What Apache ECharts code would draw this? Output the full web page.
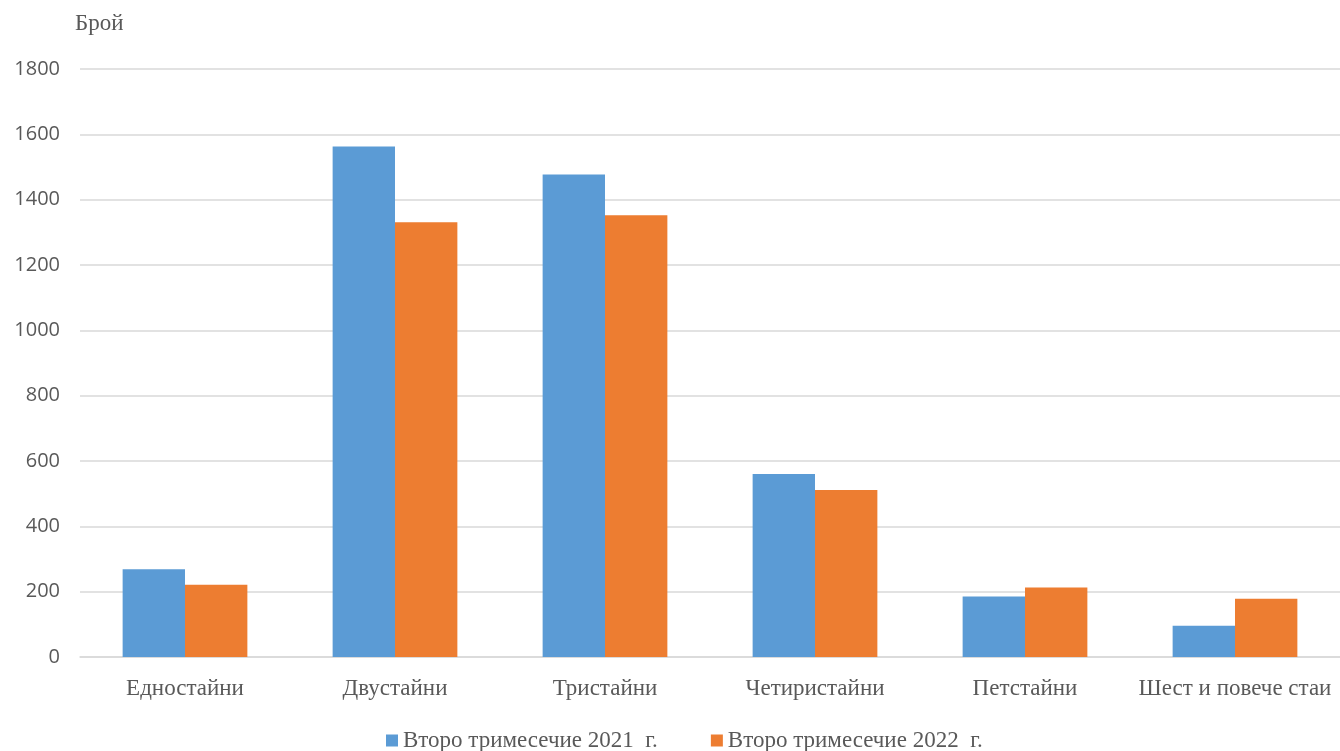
<!DOCTYPE html>
<html>
<head>
<meta charset="utf-8">
<script src="https://cdn.jsdelivr.net/npm/echarts@6/dist/echarts.min.js"></script>
<style>html,body{margin:0;padding:0;background:#fff}#c{width:1340px;height:751px}</style>
</head>
<body>
<div id="c"></div>
<script>
const categories = ['Едностайни', 'Двустайни', 'Тристайни', 'Четиристайни', 'Петстайни', 'Шест и повече стаи'];
const series2021 = [269, 1563, 1477, 560, 185, 96];
const series2022 = [221, 1331, 1352, 511, 213, 178];
const seriesNames = ['Второ тримесечие 2021  г.', 'Второ тримесечие 2022  г.'];
const yTicks = [0, 200, 400, 600, 800, 1000, 1200, 1400, 1600, 1800];
const yName = 'Брой';

const serif = '"Liberation Serif", "DejaVu Serif", serif';
const chart = echarts.init(document.getElementById('c'));
chart.setOption({
  animation: false,
  backgroundColor: '#fff',
  title: {
    text: yName, left: 75, top: 12, padding: 0,
    textStyle: { fontFamily: serif, fontSize: 23, fontWeight: 'normal', color: '#595959' }
  },
  legend: {
    left: 386, top: 729, padding: 0, icon: 'rect', itemWidth: 12, itemHeight: 12, itemGap: 53,
    textStyle: { fontFamily: serif, fontSize: 23, color: '#595959' },
    data: seriesNames
  },
  grid: { left: 80, top: 69, width: 1264, height: 588, containLabel: false },
  xAxis: {
    type: 'category', data: categories,
    axisLine: { show: true, lineStyle: { color: '#d9d9d9', width: 1.5 } },
    axisTick: { show: false },
    axisLabel: { interval: 0, margin: 20, fontFamily: serif, fontSize: 23, color: '#595959' }
  },
  yAxis: {
    type: 'value', min: yTicks[0], max: yTicks[yTicks.length - 1], interval: 200,
    axisLine: { show: false }, axisTick: { show: false },
    splitLine: { lineStyle: { color: '#d9d9d9', width: 1.5 } },
    axisLabel: { margin: 20, fontFamily: '"Open Sans", sans-serif', fontSize: 20, color: '#595959',
      formatter: v => String(v) }
  },
  series: [
    { name: seriesNames[0], type: 'bar', data: series2021, barGap: '0%', barCategoryGap: '40.6%',
      itemStyle: { color: '#5B9BD5' } },
    { name: seriesNames[1], type: 'bar', data: series2022, barGap: '0%', barCategoryGap: '40.6%',
      itemStyle: { color: '#ED7D31' } }
  ]
});
</script>
</body>
</html>
